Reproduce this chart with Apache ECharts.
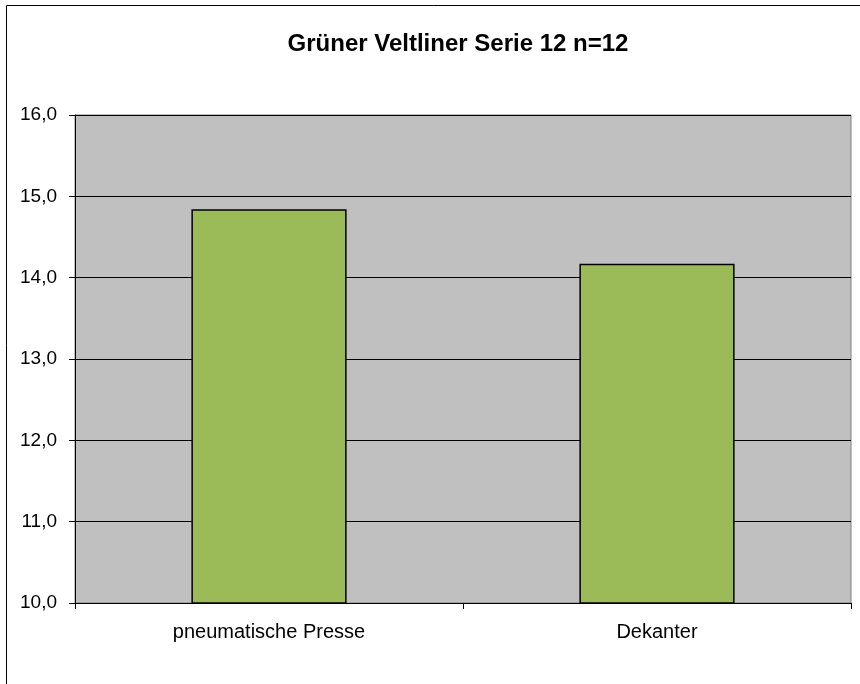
<!DOCTYPE html>
<html><head><meta charset="utf-8">
<script src="https://cdn.jsdelivr.net/npm/echarts@6/dist/echarts.min.js"></script>
<style>html,body{margin:0;padding:0;background:#fff}#c{width:860px;height:684px}</style>
</head><body><div id="c"></div>
<script>
const categories = ['pneumatische Presse', 'Dekanter'];
const values = [14.84, 14.17];
const titleText = 'Grüner Veltliner Serie 12 n=12';

const chart = echarts.init(document.getElementById('c'), null, {renderer: 'canvas'});
chart.setOption({
  animation: false,
  backgroundColor: '#ffffff',
  title: {
    text: titleText, left: 453, top: 27, textAlign: 'center',
    textStyle: {fontFamily: 'Liberation Sans, Arial', fontWeight: 'bold', fontSize: 24, color: '#000'}
  },
  graphic: [{
    type: 'rect', shape: {x: 6.5, y: 5.5, width: 900, height: 800},
    style: {fill: 'none', stroke: '#000', lineWidth: 1}, silent: true
  }],
  grid: {left: 75, right: 9, top: 115, bottom: 81, show: true,
    backgroundColor: '#c0c0c0', borderColor: '#808080', borderWidth: 1},
  xAxis: {
    type: 'category', data: categories,
    axisLine: {lineStyle: {color: '#000'}},
    axisTick: {show: true, length: 6, lineStyle: {color: '#000'}, alignWithLabel: false},
    axisLabel: {margin: 19, color: '#000', fontSize: 20, fontFamily: 'Liberation Sans, Arial'}
  },
  yAxis: {
    type: 'value', min: 10, max: 16, interval: 1,
    axisLine: {show: true, lineStyle: {color: '#000'}},
    axisTick: {show: true, length: 6, lineStyle: {color: '#000'}},
    axisLabel: {margin: 18, color: '#000', fontSize: 19, fontFamily: 'Liberation Sans, Arial',
      formatter: v => v.toFixed(1).replace('.', ',')},
    splitLine: {show: true, lineStyle: {color: '#000', width: 1}}
  },
  series: [{
    type: 'bar', data: values, barWidth: '40%',
    itemStyle: {color: '#9bbb59', borderColor: '#000', borderWidth: 1.5}
  }]
});
</script></body></html>
